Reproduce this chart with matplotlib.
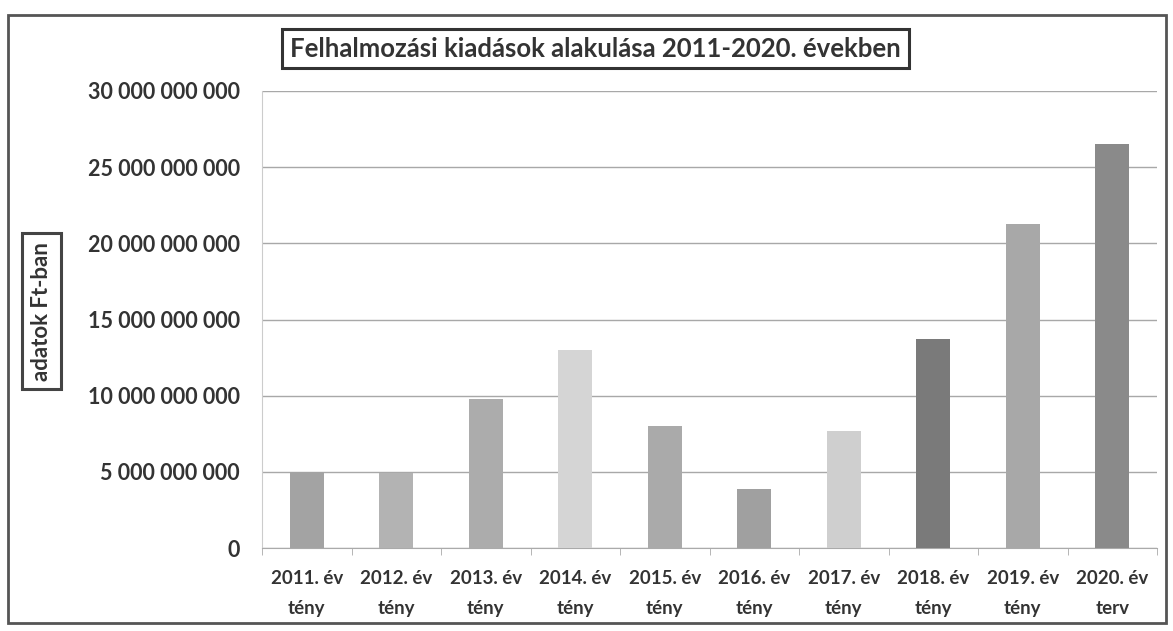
import matplotlib.pyplot as plt
from matplotlib.patches import Rectangle
from matplotlib.ticker import FuncFormatter

# Felhalmozási kiadások, Ft
years = ['2011. év', '2012. év', '2013. év', '2014. év', '2015. év',
         '2016. év', '2017. év', '2018. év', '2019. év', '2020. év']
kinds = ['tény', 'tény', 'tény', 'tény', 'tény',
         'tény', 'tény', 'tény', 'tény', 'terv']
values = [4.97e9, 4.9e9, 9.8e9, 13.0e9, 8.0e9,
          3.85e9, 7.67e9, 13.75e9, 21.3e9, 26.5e9]
bar_colors = ['#a3a3a3', '#b3b3b3', '#acacac', '#d5d5d5', '#aaaaaa',
              '#a0a0a0', '#cfcfcf', '#7a7a7a', '#a8a8a8', '#8a8a8a']

plt.rcParams['font.family'] = ['Lato', 'DejaVu Sans']
plt.rcParams['font.weight'] = 'bold'

fig = plt.figure(figsize=(11.73, 6.31), dpi=100)
ax = fig.add_axes([0.2234, 0.1315, 0.7630, 0.7243])

labels = [y + '\n' + k for y, k in zip(years, kinds)]
x = range(len(values))
ax.bar(x, values, width=0.38, color=bar_colors, zorder=3)

ax.set_xlim(-0.5, len(values) - 0.5)
ax.set_ylim(0, 30e9)
ax.set_yticks([i * 5e9 for i in range(7)])
ax.yaxis.set_major_formatter(FuncFormatter(lambda v, p: f'{int(v):,}'.replace(',', ' ')))
ax.tick_params(axis='y', length=0, pad=16, labelsize=15.5, labelcolor='#333333')
ax.grid(axis='y', color='#a8a8a8', linewidth=1.0, zorder=0)

ax.set_xticks(list(x))
ax.set_xticklabels(labels, fontsize=13.5, color='#333333', linespacing=1.9)
ax.set_xticks([i + 0.5 for i in range(-1, len(values))], minor=True)
ax.tick_params(axis='x', which='major', length=0, pad=16)
ax.tick_params(axis='x', which='minor', length=5, color='#aaaaaa', direction='out')

for s in ['top', 'right']:
    ax.spines[s].set_visible(False)
ax.spines['left'].set_color('#cccccc')
ax.spines['bottom'].set_color('#aaaaaa')

fig.text(0.5077, 0.923, 'Felhalmozási kiadások alakulása 2011-2020. években',
         ha='center', va='center', fontsize=18.5, color='#333333',
         bbox=dict(boxstyle='square,pad=0.3', fc='white', ec='#333333', lw=2.2))
fig.text(0.0355, 0.507, 'adatok Ft-ban', rotation=90, ha='center', va='center',
         fontsize=16, color='#333333',
         bbox=dict(boxstyle='square,pad=0.4', fc='white', ec='#444444', lw=2.2))

fig.patches.append(Rectangle((0.007, 0.012), 0.987, 0.965, transform=fig.transFigure,
                             fill=False, ec='#555555', lw=2))

fig.savefig('out.png', dpi=100)
